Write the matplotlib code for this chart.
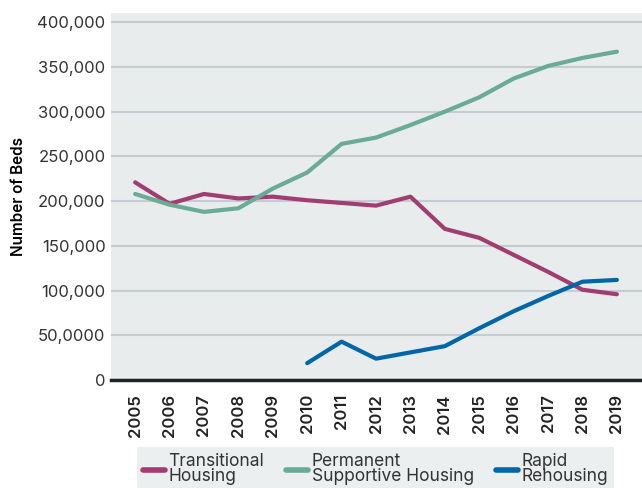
import matplotlib.pyplot as plt

plt.rcParams['font.family'] = ['Inter', 'DejaVu Sans']

# ---------- DATA ----------
years = list(range(2005, 2020))
transitional = [221000, 197000, 208000, 203000, 205000, 201000, 198000, 195000,
                205000, 169000, 159000, 140000, 121000, 101000, 96000]
permanent = [208000, 196000, 188000, 192000, 214000, 232000, 264000, 271000,
             285000, 300000, 316000, 337000, 351000, 360000, 367000]
rapid_years = list(range(2010, 2020))
rapid = [19000, 43000, 24000, 31000, 38000, 58000, 77000, 94000, 110000, 112000]

y_ticks = [0, 50000, 100000, 150000, 200000, 250000, 300000, 350000, 400000]
y_labels = ['0', '50,0000', '100,000', '150,000', '200,000', '250,000',
            '300,000', '350,000', '400,000']

# ---------- PLOT ----------
fig = plt.figure(figsize=(6.42, 4.88), dpi=100)
ax = fig.add_axes([0.173, 0.221, 0.827, 0.752])
ax.set_facecolor('#e8ecec')

ax.plot(years, transitional, color='#a23d72', lw=3, solid_capstyle='round',
        solid_joinstyle='round', label='Transitional\nHousing')
ax.plot(years, permanent, color='#6aab95', lw=3, solid_capstyle='round',
        solid_joinstyle='round', label='Permanent\nSupportive Housing')
ax.plot(rapid_years, rapid, color='#0066a8', lw=3, solid_capstyle='round',
        solid_joinstyle='round', label='Rapid\nRehousing')

ax.set_xlim(2004.3, 2019.73)
ax.set_ylim(0, 410000)
ax.set_yticks(y_ticks)
ax.set_yticklabels(y_labels, fontsize=12, color='#333333')
ax.set_xticks(years)
ax.set_xticklabels([str(y) for y in years], rotation=90, fontsize=12,
                   fontweight='semibold', color='#222222')
ax.tick_params(length=0, pad=4)
ax.tick_params(axis='x', pad=10)
ax.grid(axis='y', color='#c4ccd2', lw=1.5)
ax.set_axisbelow(True)
for s in ['top', 'right', 'left']:
    ax.spines[s].set_visible(False)
ax.spines['bottom'].set_color('#222222')
ax.spines['bottom'].set_linewidth(2.5)

ax.set_ylabel('Number of Beds', fontsize=11, fontweight='semibold')
ax.yaxis.set_label_coords(-0.16, 0.5)

leg = fig.legend(loc='upper center', bbox_to_anchor=(0.585, 0.084), ncol=3,
                 fontsize=12.5, frameon=True, facecolor='#e8ecec', edgecolor='none',
                 fancybox=False, handlelength=1.25, handletextpad=0.2,
                 columnspacing=1.3, borderpad=0.35, borderaxespad=0)
for line in leg.get_lines():
    line.set_linewidth(4)
for t in leg.get_texts():
    t.set_color('#333333')
    t.set_linespacing(0.85)

fig.savefig('out.png', dpi=100)
